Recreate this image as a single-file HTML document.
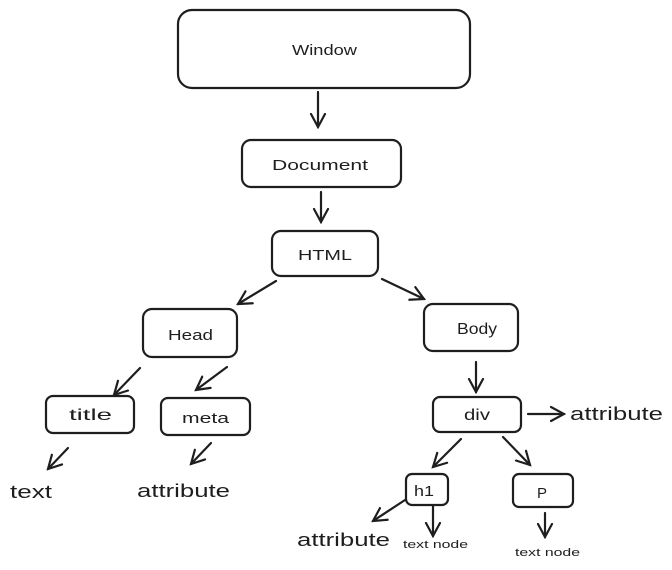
<!DOCTYPE html>
<html><head><meta charset="utf-8"><style>
html,body{margin:0;padding:0;background:#fff;width:672px;height:570px;overflow:hidden}
svg{display:block}
text{font-family:"Liberation Sans",sans-serif;fill:#1e1e1e}
</style></head><body>
<svg width="672" height="570" viewBox="0 0 672 570" xmlns="http://www.w3.org/2000/svg">
<defs>
<marker id="a" markerWidth="16" markerHeight="18" refX="14" refY="9" orient="auto" markerUnits="userSpaceOnUse">
<path d="M1,2 L14,9 L1,16" fill="none" stroke="#1e1e1e" stroke-width="2.2" stroke-linecap="round"/>
</marker>
</defs>
<g fill="none" stroke="#1e1e1e" stroke-width="2.2">
<rect x="178" y="10" width="292" height="78" rx="14"/>
<rect x="242" y="140" width="159" height="47" rx="9"/>
<rect x="272" y="231" width="106" height="45" rx="9"/>
<rect x="143" y="309" width="94" height="48" rx="9"/>
<rect x="424" y="304" width="94" height="47" rx="9"/>
<rect x="46" y="396" width="88" height="37" rx="7"/>
<rect x="161" y="398" width="89" height="37" rx="7"/>
<rect x="433" y="397" width="88" height="35" rx="7"/>
<rect x="406" y="474" width="42" height="31" rx="6"/>
<rect x="513" y="474" width="60" height="33" rx="6"/>
</g>
<g fill="none" stroke="#1e1e1e" stroke-width="2.2" stroke-linecap="round" marker-end="url(#a)">
<line x1="318" y1="92" x2="318" y2="127"/>
<line x1="321" y1="192" x2="321" y2="222"/>
<line x1="276" y1="281" x2="238" y2="304"/>
<line x1="382" y1="279" x2="424" y2="299"/>
<line x1="140" y1="368" x2="114" y2="395"/>
<line x1="227" y1="367" x2="196" y2="390"/>
<line x1="68" y1="448" x2="48" y2="469"/>
<line x1="211" y1="443" x2="191" y2="464"/>
<line x1="476" y1="362" x2="476" y2="392"/>
<line x1="528" y1="414" x2="564" y2="414"/>
<line x1="461" y1="439" x2="433" y2="467"/>
<line x1="503" y1="437" x2="530" y2="465"/>
<line x1="405" y1="500" x2="373" y2="521"/>
<line x1="433" y1="506" x2="433" y2="536"/>
<line x1="545" y1="513" x2="545" y2="537"/>
</g>
<g lengthAdjust="spacingAndGlyphs">
<text x="292" y="55" font-size="15" textLength="65" lengthAdjust="spacingAndGlyphs">Window</text>
<text x="272" y="170" font-size="15" textLength="96" lengthAdjust="spacingAndGlyphs">Document</text>
<text x="298" y="260" font-size="15" textLength="54" lengthAdjust="spacingAndGlyphs">HTML</text>
<text x="168" y="340" font-size="15" textLength="45" lengthAdjust="spacingAndGlyphs">Head</text>
<text x="457" y="334" font-size="16" textLength="40" lengthAdjust="spacingAndGlyphs">Body</text>
<text x="69" y="420" font-size="16" textLength="43" lengthAdjust="spacingAndGlyphs">title</text>
<text x="182" y="423" font-size="15" textLength="47" lengthAdjust="spacingAndGlyphs">meta</text>
<text x="464" y="420" font-size="16" textLength="26" lengthAdjust="spacingAndGlyphs">div</text>
<text x="414" y="496" font-size="15" textLength="20" lengthAdjust="spacingAndGlyphs">h1</text>
<text x="537" y="498" font-size="15">P</text>
<text x="10" y="498" font-size="18" textLength="42" lengthAdjust="spacingAndGlyphs">text</text>
<text x="137" y="497" font-size="18" textLength="93" lengthAdjust="spacingAndGlyphs">attribute</text>
<text x="570" y="420" font-size="18" textLength="93" lengthAdjust="spacingAndGlyphs">attribute</text>
<text x="297" y="546" font-size="18" textLength="93" lengthAdjust="spacingAndGlyphs">attribute</text>
<text x="403" y="548" font-size="11" textLength="65" lengthAdjust="spacingAndGlyphs">text node</text>
<text x="515" y="556" font-size="11" textLength="65" lengthAdjust="spacingAndGlyphs">text node</text>
</g>
</svg>
</body></html>
